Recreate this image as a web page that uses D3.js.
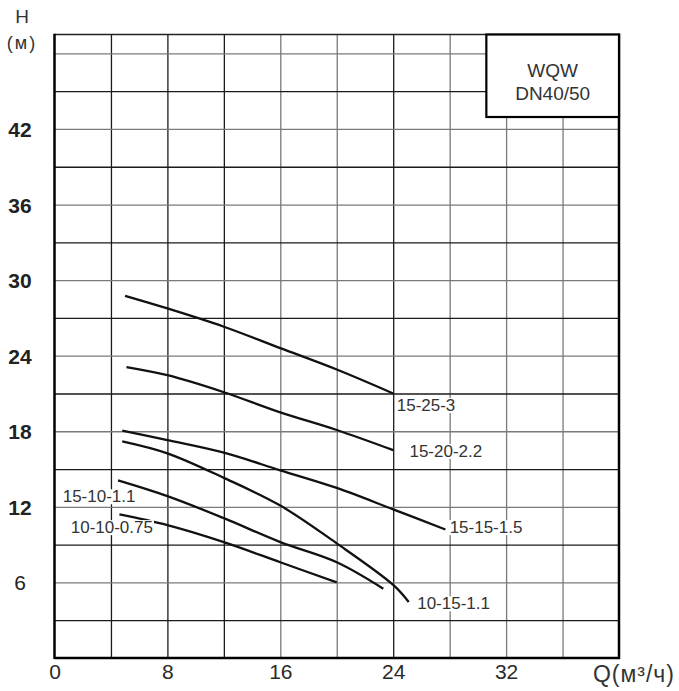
<!DOCTYPE html>
<html>
<head>
<meta charset="utf-8">
<script src="https://cdn.jsdelivr.net/npm/d3@7"></script>
<style>
  body { margin: 0; background: #fff; }
  svg { display: block; font-family: "Liberation Sans", Arial, sans-serif; }
</style>
</head>
<body>
<div class="holder"></div>
<script>
// pump models, one curve each
var pumps = ["15-25-3", "15-20-2.2", "15-15-1.5", "10-15-1.1", "15-10-1.1", "10-10-0.75"]

// Q (m3/h), per pump
var flow = [
    [5.0, 8, 12, 16, 20, 24],
    [5.1, 8, 12, 16, 20, 24],
    [4.8, 8, 12, 16, 20, 24, 27.7],
    [4.8, 8, 12, 16, 20, 24, 25.1],
    [4.5, 8, 12, 16, 20, 23.3],
    [4.6, 8, 12, 16, 20]
]

// H (m), per pump
var head = [
    [28.75, 27.75, 26.3, 24.6, 22.9, 21.0],
    [23.1, 22.45, 21.1, 19.5, 18.1, 16.5],
    [18.05, 17.3, 16.3, 14.9, 13.5, 11.8, 10.2],
    [17.2, 16.25, 14.3, 12.1, 9.1, 5.8, 4.45],
    [14.1, 12.85, 11.1, 9.2, 7.6, 5.5],
    [11.4, 10.55, 9.2, 7.6, 6.0]
]

// where each curve name sits (in Q / H units)
var labelQ = [24.25, 25.15, 28.0, 25.7, 0.58, 1.15]
var labelH = [20.1, 16.45, 10.4, 4.35, 12.85, 10.4]

var xTicks = [0, 8, 16, 24, 32]
var yTicks = [6, 12, 18, 24, 30, 36, 42]
var xGrid = [4, 8, 12, 16, 20, 24, 28, 32, 36]
var yGrid = d3.range(3, 49, 3)

var width = 679,
    height = 691

// plot edges ("top" is taken by window.top)
var pLeft = 54.5, pRight = 619, pTop = 34.5, pBottom = 658

var x = d3.scaleLinear().domain([0, 40]).range([pLeft, pRight])
var y = d3.scaleLinear().domain([0, 49.5]).range([pBottom, pTop])

var svg = d3.select(".holder").append("svg")
    .attr("width", width)
    .attr("height", height)

// grid: vertical lines
var gx = svg.append("g")
    .attr("transform", "translate(0," + pBottom + ")")
    .call(d3.axisBottom(x).tickValues(xGrid).tickSize(-(pBottom - pTop)).tickFormat(""))
gx.select(".domain").remove()
gx.selectAll(".tick line")
    .attr("stroke", function(d) { return [16, 20, 28, 32, 36].indexOf(d) >= 0 ? "#7a7a7a" : "#1a1a1a" })
    .attr("stroke-width", 1.3)

// grid: horizontal lines
var gy = svg.append("g")
    .attr("transform", "translate(" + pLeft + ",0)")
    .call(d3.axisLeft(y).tickValues(yGrid).tickSize(-(pRight - pLeft)).tickFormat(""))
gy.select(".domain").remove()
gy.selectAll(".tick line")
    .attr("stroke", function(d) { return d % 6 == 0 ? "#7a7a7a" : "#1a1a1a" })
    .attr("stroke-width", 1.3)

// frame
svg.append("line").attr("x1", pLeft).attr("x2", pRight).attr("y1", pTop).attr("y2", pTop)
    .attr("stroke", "#222").attr("stroke-width", 1.5)
svg.append("line").attr("x1", pLeft).attr("x2", pLeft).attr("y1", pTop - 0.7).attr("y2", pBottom + 1)
    .attr("stroke", "#000").attr("stroke-width", 2.5)
svg.append("line").attr("x1", pLeft).attr("x2", pRight + 1).attr("y1", pBottom).attr("y2", pBottom)
    .attr("stroke", "#000").attr("stroke-width", 2.5)
svg.append("line").attr("x1", pRight).attr("x2", pRight).attr("y1", pTop - 0.7).attr("y2", pBottom + 1)
    .attr("stroke", "#000").attr("stroke-width", 2.5)

// model box, top right
svg.append("rect")
    .attr("x", x(30.6))
    .attr("y", pTop)
    .attr("width", pRight - x(30.6))
    .attr("height", y(42.95) - pTop)
    .attr("fill", "#fff")
    .attr("stroke", "#000")
    .attr("stroke-width", 2.2)
svg.append("text")
    .attr("x", (x(30.6) + pRight) / 2)
    .attr("y", 77)
    .attr("text-anchor", "middle")
    .style("font-size", "19px")
    .style("fill", "#333")
    .text("WQW")
svg.append("text")
    .attr("x", (x(30.6) + pRight) / 2)
    .attr("y", 100)
    .attr("text-anchor", "middle")
    .style("font-size", "19px")
    .style("fill", "#333")
    .text("DN40/50")

// tick labels
var ax = svg.append("g")
    .attr("transform", "translate(0," + pBottom + ")")
    .call(d3.axisBottom(x).tickValues(xTicks).tickSize(0).tickPadding(7))
ax.select(".domain").remove()
ax.selectAll("text")
    .attr("dy", null)
    .attr("y", 21)
    .style("font-size", "21px")
    .style("font-family", "Liberation Sans, Arial, sans-serif")
    .style("fill", "#2a2a2a")

var ay = svg.append("g")
    .attr("transform", "translate(20,0)")
    .call(d3.axisLeft(y).tickValues(yTicks).tickSize(0).tickPadding(0))
ay.select(".domain").remove()
ay.selectAll("text")
    .attr("x", 0)
    .attr("dy", "0.36em")
    .attr("text-anchor", "middle")
    .style("font-size", "21px")
    .style("font-family", "Liberation Sans, Arial, sans-serif")
    .style("font-weight", function(d) { return d >= 12 ? "bold" : "normal" })
    .style("fill", "#222")

// axis titles
svg.append("text").attr("x", 22).attr("y", 23).attr("text-anchor", "middle")
    .style("font-size", "19px").style("fill", "#333").text("H")
svg.append("text").attr("x", 22).attr("y", 49).attr("text-anchor", "middle")
    .style("font-size", "18px").style("letter-spacing", "2px").style("fill", "#333").text("(м)")
svg.append("text").attr("x", 675).attr("y", 682).attr("text-anchor", "end")
    .style("font-size", "23px").style("letter-spacing", "1px").style("fill", "#333").text("Q(м³/ч)")

// pump curves
var line = d3.line()
    .x(function(d) { return x(d[0]) })
    .y(function(d) { return y(d[1]) })
    .curve(d3.curveCatmullRom.alpha(0.5))

svg.append("g").selectAll("path")
    .data(pumps)
    .enter().append("path")
    .attr("d", function(p, i) { return line(d3.zip(flow[i], head[i])) })
    .attr("fill", "none")
    .attr("stroke", "#111")
    .attr("stroke-width", 2.3)

// curve names on a white patch
var names = svg.append("g").selectAll("g")
    .data(pumps)
    .enter().append("g")

names.append("text")
    .attr("x", function(p, i) { return x(labelQ[i]) })
    .attr("y", function(p, i) { return y(labelH[i]) })
    .attr("dy", "0.36em")
    .style("font-size", "17px")
    .style("fill", "#333")
    .text(function(p) { return p })

names.each(function() {
    var g = d3.select(this)
    var b = g.select("text").node().getBBox()
    g.insert("rect", "text")
        .attr("x", b.x - 1)
        .attr("y", b.y + 2)
        .attr("width", b.width + 2)
        .attr("height", b.height - 4)
        .attr("fill", "#fff")
})
</script>
</body>
</html>
